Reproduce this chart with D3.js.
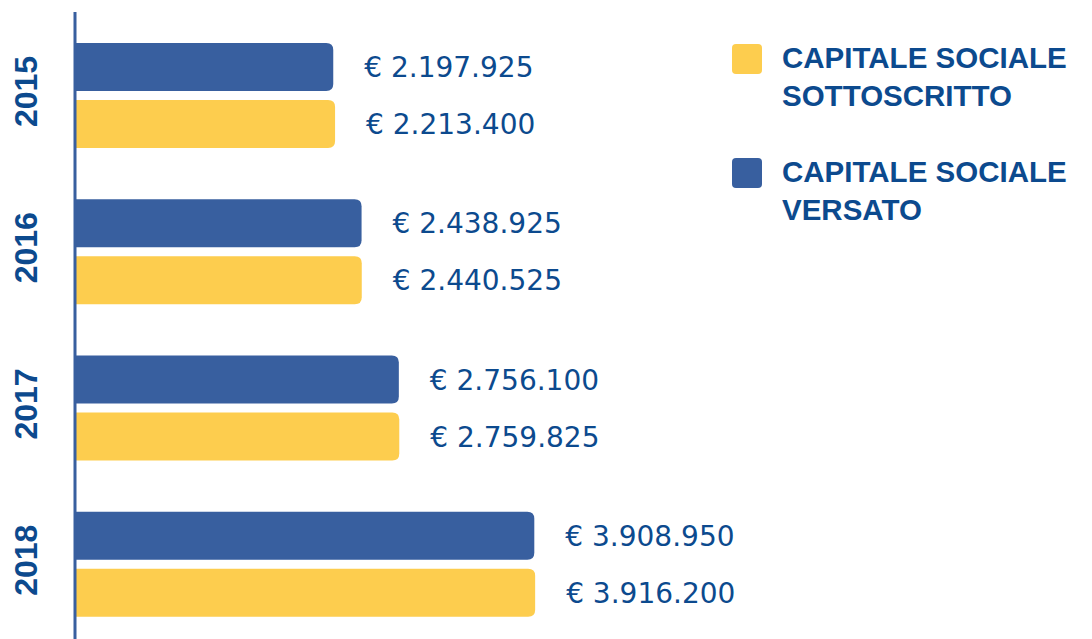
<!DOCTYPE html>
<html>
<head>
<meta charset="utf-8">
<script src="https://cdn.jsdelivr.net/npm/d3@7"></script>
<style>
  body { margin:0; background:#fff; }
  svg { display:block; }
</style>
</head>
<body>
<div id="canvas"></div>
<script>
// data
var years = ['2015','2016','2017','2018'];
var versato = [2197925, 2438925, 2756100, 3908950];
var sottoscritto = [2213400, 2440525, 2759825, 3916200];
var seriesKeys = ['versato','sottoscritto'];
var legendLabels = [['CAPITALE SOCIALE','SOTTOSCRITTO'],['CAPITALE SOCIALE','VERSATO']];

var W = 1092, H = 639;
var colors = {versato:'#385f9f', sottoscritto:'#fdcd4e'};
var textColor = '#0c4a8e';

var svg = d3.select('#canvas')
    .append('svg')
    .attr('width', W)
    .attr('height', H);

var locale = d3.formatLocale({decimal:',', thousands:'.', grouping:[3], currency:['€ ','']});
var fmt = locale.format('$,');

var rows = years.map(function(y,i){
  return {year:y, versato:versato[i], sottoscritto:sottoscritto[i]};
});

var axisX = 75;
var scaleX = d3.scaleLinear()
    .domain([0, 4000000])
    .range([axisX, axisX + 470]);

var scaleY = d3.scaleBand()
    .domain(years)
    .range([17.4, 642.4])
    .paddingInner(0.328)
    .paddingOuter(0.164);

var scaleSub = d3.scaleBand()
    .domain(seriesKeys)
    .range([0, scaleY.bandwidth()])
    .paddingInner(0.158);

// rounded on the right only
function barPath(x0, y0, x1, h, r){
  return 'M' + x0 + ',' + y0 +
    'H' + (x1 - r) +
    'Q' + x1 + ',' + y0 + ' ' + x1 + ',' + (y0 + r) +
    'V' + (y0 + h - r) +
    'Q' + x1 + ',' + (y0 + h) + ' ' + (x1 - r) + ',' + (y0 + h) +
    'H' + x0 + 'Z';
}

var groups = svg.selectAll('.year')
    .data(rows)
    .enter()
    .append('g')
    .attr('class','year')
    .attr('transform', function(d){ return 'translate(0,' + scaleY(d.year) + ')'; });

groups.selectAll('path')
    .data(function(d){ return seriesKeys.map(function(k){ return {key:k, value:d[k]}; }); })
    .enter()
    .append('path')
    .attr('d', function(d){
      return barPath(axisX - 1, scaleSub(d.key), scaleX(d.value), scaleSub.bandwidth(), 7);
    })
    .attr('fill', function(d){ return colors[d.key]; });

groups.selectAll('.val')
    .data(function(d){ return seriesKeys.map(function(k){ return {key:k, value:d[k]}; }); })
    .enter()
    .append('text')
    .attr('class','val')
    .attr('x', function(d){ return scaleX(d.value) + 31; })
    .attr('y', function(d){ return scaleSub(d.key) + scaleSub.bandwidth()/2; })
    .attr('dy', '0.36em')
    .attr('fill', textColor)
    .style('font-family', '"DejaVu Sans", sans-serif')
    .style('font-size', '28px')
    .text(function(d){ return fmt(d.value); });

// year labels
groups.append('text')
    .attr('transform', function(){ return 'translate(37,' + (scaleY.bandwidth()/2 - 4) + ') rotate(-90)'; })
    .attr('text-anchor','middle')
    .attr('fill', textColor)
    .style('font-family', '"Liberation Sans", Arial, sans-serif')
    .style('font-weight', 'bold')
    .style('font-size', '32px')
    .text(function(d){ return d.year; });

// axis line
svg.append('line')
    .attr('x1', axisX).attr('x2', axisX)
    .attr('y1', 12).attr('y2', H)
    .attr('stroke', '#385f9f')
    .attr('stroke-width', 3);

// legend
var legend = svg.selectAll('.legend')
    .data(['sottoscritto','versato'])
    .enter()
    .append('g')
    .attr('class','legend')
    .attr('transform', function(d,i){ return 'translate(732,' + (44 + i*114) + ')'; });

legend.append('rect')
    .attr('width', 30).attr('height', 30)
    .attr('rx', 4)
    .attr('fill', function(d){ return colors[d]; });

legend.each(function(d,i){
  var t = d3.select(this).append('text')
      .attr('fill', textColor)
      .style('font-family', '"Liberation Sans", Arial, sans-serif')
      .style('font-weight', 'bold')
      .style('font-size', '29.5px');
  legendLabels[i].forEach(function(line,j){
    t.append('tspan')
      .attr('x', 50)
      .attr('y', 24 + j*38)
      .text(line);
  });
});
</script>
</body>
</html>
